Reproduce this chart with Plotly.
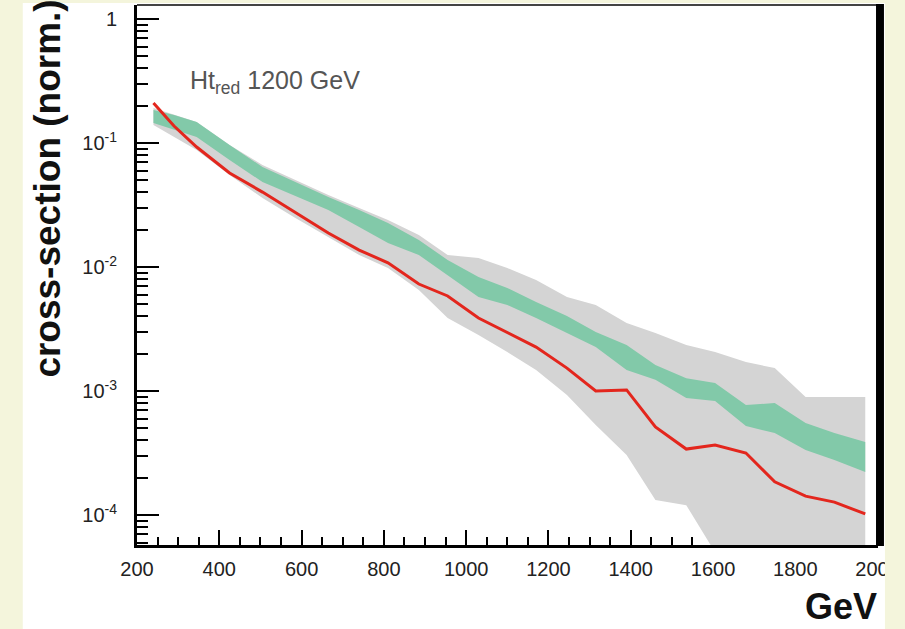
import plotly.graph_objects as go

# ---- data ----
energy = [240, 290, 345, 425, 505, 585, 665, 740, 810, 885, 955, 1030, 1100,
          1170, 1245, 1315, 1390, 1460, 1535, 1605, 1680, 1750, 1825, 1895, 1970]

red_central = [0.210, 0.137, 0.0928, 0.0573, 0.0402, 0.0273, 0.0188, 0.0137, 0.0108,
               0.00729, 0.00584, 0.00388, 0.00294, 0.00226, 0.00153, 0.00100, 0.00102,
               0.000513, 0.000340, 0.000367, 0.000316, 0.000185, 0.000142, 0.000127, 0.000102]

green_upper = [0.1845, 0.1682, 0.1477, 0.0964, 0.0640, 0.0485, 0.0367, 0.0288, 0.0226,
               0.0165, 0.0114, 0.00831, 0.00677, 0.00522, 0.00403, 0.00299, 0.00235,
               0.00162, 0.00127, 0.00116, 0.000771, 0.000800, 0.000552, 0.000458, 0.000388]

green_lower = [0.1450, 0.1273, 0.1118, 0.0729, 0.0485, 0.0374, 0.0288, 0.0210, 0.0156,
               0.0125, 0.00862, 0.00573, 0.00494, 0.00388, 0.00294, 0.00226, 0.00148,
               0.00123, 0.000878, 0.000831, 0.000522, 0.000458, 0.000334, 0.000278, 0.000222]

gray_upper = [0.1915, 0.1682, 0.1477, 0.0964, 0.0665, 0.0503, 0.0381, 0.0299, 0.0239,
              0.0181, 0.0125, 0.0118, 0.00981, 0.00785, 0.00573, 0.00494, 0.00354,
              0.00294, 0.00235, 0.00206, 0.00171, 0.00153, 0.000895, 0.000895, 0.000895]

gray_lower = [0.1397, 0.1118, 0.0878, 0.0552, 0.0360, 0.0248, 0.0175, 0.0125, 0.00981,
              0.00653, 0.00388, 0.00283, 0.00206, 0.00148, 0.000929, 0.000532, 0.000305,
              0.000132, 0.000120, 0.00005, 0.00001, 0.00001, 0.00001, 0.00001, 0.00001]

x_tick_vals = [200, 400, 600, 800, 1000, 1200, 1400, 1600, 1800, 2000]
x_tick_text = ["200", "400", "600", "800", "1000", "1200", "1400", "1600", "1800", "2000"]
y_tick_vals = [1, 0.1, 0.01, 0.001, 0.0001]
y_tick_text = ["1", "10<sup>-1</sup>", "10<sup>-2</sup>", "10<sup>-3</sup>", "10<sup>-4</sup>"]

# ---- layout geometry (pixels) ----
W, H = 905, 629
L, R, T, B = 137, 883, 5, 545


def px(x):
    return (x - L) / (R - L)


def py(y):
    return (B - y) / (B - T)


CREAM = "#f4f5dc"
GRAY = "#d4d4d4"
GREEN = "#82c9a9"
RED = "#e3261d"

fig = go.Figure()
fig.add_trace(go.Scatter(x=energy, y=gray_lower, mode="lines", line=dict(width=0),
                         showlegend=False, hoverinfo="skip"))
fig.add_trace(go.Scatter(x=energy, y=gray_upper, mode="lines", line=dict(width=0),
                         fill="tonexty", fillcolor=GRAY, showlegend=False, hoverinfo="skip"))
fig.add_trace(go.Scatter(x=energy, y=green_lower, mode="lines", line=dict(width=0),
                         showlegend=False, hoverinfo="skip"))
fig.add_trace(go.Scatter(x=energy, y=green_upper, mode="lines", line=dict(width=0),
                         fill="tonexty", fillcolor=GREEN, showlegend=False, hoverinfo="skip"))
fig.add_trace(go.Scatter(x=energy, y=red_central, mode="lines",
                         line=dict(color=RED, width=3), showlegend=False))

y_minor = [k * 10.0 ** e for e in range(-5, 1) for k in range(2, 10)]

fig.update_layout(
    width=W, height=H,
    margin=dict(l=L, r=W - R, t=T, b=H - B, pad=0),
    paper_bgcolor=CREAM,
    plot_bgcolor="white",
    font=dict(family="Liberation Sans, Arial, sans-serif", color="#222"),
    xaxis=dict(
        range=[200, 2001],
        tickmode="array", tickvals=x_tick_vals, ticktext=x_tick_text,
        ticks="inside", ticklen=15, tickwidth=2, tickcolor="black",
        minor=dict(ticks="inside", ticklen=8, tickwidth=2, tickcolor="black",
                   tickmode="linear", tick0=200, dtick=50),
        showline=True, linecolor="black", linewidth=3,
        showgrid=False, zeroline=False,
        tickfont=dict(size=20, color="#222"),
        ticklabelstandoff=4,
        layer="below traces",
    ),
    yaxis=dict(
        type="log",
        range=[-4.242, 0.113],
        tickmode="array", tickvals=y_tick_vals, ticktext=y_tick_text,
        ticks="inside", ticklen=22, tickwidth=2, tickcolor="black",
        minor=dict(ticks="inside", ticklen=11, tickwidth=2, tickcolor="black",
                   tickmode="array", tickvals=y_minor),
        showline=True, linecolor="black", linewidth=3,
        showgrid=False, zeroline=False,
        tickfont=dict(size=20, color="#222"),
        ticklabelstandoff=13,
    ),
    shapes=[
        # white picture area
        dict(type="rect", xref="paper", yref="paper", layer="below",
             x0=px(22), x1=px(890), y0=py(640), y1=py(3),
             fillcolor="white", line=dict(width=0)),
        # top frame
        dict(type="line", xref="paper", yref="paper", layer="above",
             x0=0, x1=px(884), y0=1, y1=1, line=dict(color="#444", width=2)),
        # right thick frame
        dict(type="rect", xref="paper", yref="paper", layer="above",
             x0=px(881), x1=px(889), y0=py(546), y1=py(4),
             fillcolor="black", line=dict(width=0)),
        # cream strip on the right (clips the last tick label)
        dict(type="rect", xref="paper", yref="paper", layer="above",
             x0=px(890), x1=px(910), y0=py(640), y1=py(-5),
             fillcolor=CREAM, line=dict(width=0)),
    ],
    annotations=[
        dict(text="<b>cross-section (norm.)</b>", textangle=-90,
             xref="paper", yref="paper", x=px(46), y=py(189),
             xanchor="center", yanchor="middle", showarrow=False,
             font=dict(size=37, color="#111")),
        dict(text="<b>GeV</b>",
             xref="paper", yref="paper", x=px(846), y=py(607),
             xanchor="center", yanchor="middle", showarrow=False,
             font=dict(size=36, color="#111")),
        dict(text="Ht<sub>red</sub> 1200 GeV",
             xref="paper", yref="paper", x=px(188), y=py(82),
             xanchor="left", yanchor="middle", showarrow=False,
             font=dict(size=25, color="#555")),
    ],
)

fig.write_html("out.html",
               config={"displayModeBar": False},
               post_script="document.body.style.margin='0';document.body.style.overflow='hidden';")
